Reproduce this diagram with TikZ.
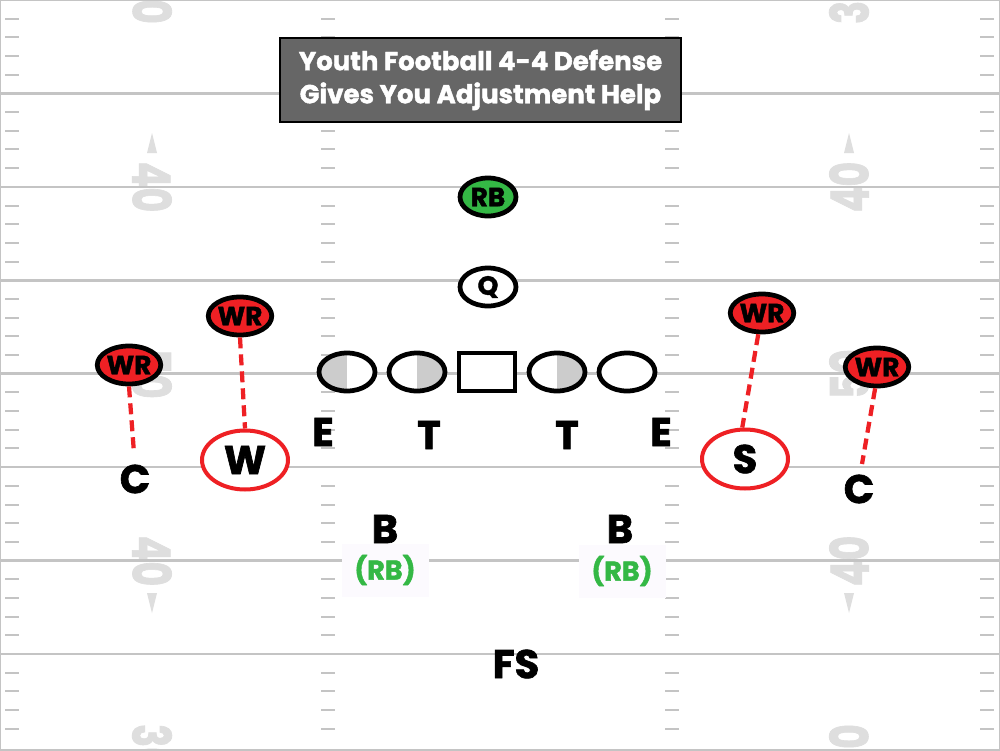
\documentclass[tikz,border=0pt]{standalone}
\usepackage{fontspec}
\setmainfont{Poppins}[BoldFeatures={FakeBold=1.6}]
\usetikzlibrary{shapes.geometric,math}

\definecolor{fieldline}{HTML}{C4C4C4}
\definecolor{numgray}{HTML}{DEDEDE}
\definecolor{wrred}{HTML}{EE2024}
\definecolor{rbgreen}{HTML}{34B845}
\definecolor{halfgray}{HTML}{CCCCCC}
\definecolor{titlegray}{HTML}{666666}
\definecolor{haze}{HTML}{FCFAFE}

\begin{document}
\begin{tikzpicture}[x=0.2mm,y=-0.2mm,
  yardline/.style={fieldline,line width=0.5mm},
  hash/.style={fieldline,line width=0.4mm},
  yardnum/.style={numgray,font=\fontsize{30}{30}\selectfont\bfseries,inner sep=0pt},
  player/.style={ellipse,draw=black,line width=0.95mm,minimum width=11.2mm,minimum height=7.6mm,inner sep=0pt,font=\fontsize{15}{15}\selectfont\bfseries},
  wr/.style={player,fill=wrred},
  lineman/.style={player,fill=white},
  halfleft/.style={path picture={\fill[halfgray] (path picture bounding box.north west) rectangle (path picture bounding box.south);}},
  halfright/.style={path picture={\fill[halfgray] (path picture bounding box.north east) rectangle (path picture bounding box.south);}},
  zone/.style={ellipse,draw=wrred,fill=white,line width=0.8mm,minimum width=17.2mm,minimum height=11.8mm,inner sep=0pt,font=\fontsize{22.8}{22.8}\selectfont\bfseries},
  big/.style={font=\fontsize{22.8}{22.8}\selectfont\bfseries,inner sep=0pt},
  motion/.style={wrred,line width=0.85mm,dash pattern=on 2.2mm off 1.2mm},
  backup/.style={rbgreen,fill=haze,font=\fontsize{15.4}{15.4}\selectfont\bfseries,minimum width=17.4mm,minimum height=10.6mm}
]
  \useasboundingbox (0,0) rectangle (1000,750);
  \clip (0,0) rectangle (1000,750);
  \fill[white] (0,0) rectangle (1000,750);

  % yard numbers
  \foreach \y/\t in {0/30,187/40,374/50,561/40,748/30} {
    \node[yardnum,rotate=-90] (ln\y) at (152,\y) {\scalebox{0.72}[1]{\t}};
    \node[yardnum,rotate=90] (rn\y) at (849,\y) {\scalebox{0.72}[1]{\t}};
  }
  \fill[numgray] (152,133) -- (147,153) -- (157,153) -- cycle;
  \fill[numgray] (152,613) -- (147,593) -- (157,593) -- cycle;
  \fill[numgray] (849,133) -- (844,153) -- (854,153) -- cycle;
  \fill[numgray] (849,613) -- (844,593) -- (854,593) -- cycle;

  \foreach \b in {0,...,7} {
    \foreach \j in {1,...,4} {
      \tikzmath{
        real \hy;
        \hy = (\b * 5 + \j) * 18.685;
      }
      \foreach \hx in {5,321,665,980}
        \draw[hash] (\hx,\hy) -- ++(14,0);
    }
  }
  \foreach \b in {1,...,7}
    \draw[yardline] (0,\b*93.43) -- (1000,\b*93.43);
  \draw[fieldline,line width=0.4mm] (0.5,0.5) rectangle (999.5,749.5);

  \node[fill=titlegray,draw=black,line width=0.4mm,minimum width=80.2mm,minimum height=16.8mm,
    text=white,align=center,font=\fontsize{14.8}{18.8}\selectfont\bfseries] (title) at (480.5,80)
    {Youth Football 4-4 Defense\\Gives You Adjustment Help};

  % offense
  \node[player,fill=rbgreen] (rb) at (488,197) {RB};
  \node[player,fill=white] (qb) at (488,287) {Q};
  \node[lineman,halfleft] (lend) at (347,372) {};
  \node[lineman,halfright] (ltackle) at (417,372) {};
  \node[draw,fill=white,line width=0.95mm,minimum width=11.2mm,minimum height=7.6mm] (center) at (487,372) {};
  \node[lineman,halfright] (rtackle) at (557,372) {};
  \node[lineman] (rend) at (627,372) {};
  \node[wr] (wrlo) at (129,365) {WR};
  \node[wr] (wrli) at (240,316) {WR};
  \node[wr] (wrri) at (762,313) {WR};
  \node[wr] (wrro) at (877,367) {WR};

  % defense
  \node[big] (del) at (323,432) {E};
  \node[big] (dtl) at (429,435) {T};
  \node[big] (dtr) at (567,435) {T};
  \node[big] (der) at (661,432) {E};
  \node[big] (cbl) at (135,479) {C};
  \node[big] (cbr) at (859,489) {C};
  \node[zone] (will) at (245,460) {W};
  \node[zone] (sam) at (745,459) {S};
  \node[big] (lbl) at (385,529) {B};
  \node[big] (lbr) at (620,529) {B};
  \node[backup] (rbl) at (385,570) {(RB)};
  \node[backup] (rbr) at (622,571) {(RB)};
  \node[big] (fs) at (516,664) {FS};

  \coordinate (cbltop) at (134,453);
  \coordinate (cbrtop) at (862,464);
  \draw[motion] (wrlo.south) -- (cbltop);
  \draw[motion] (wrli.south) -- (will.north);
  \draw[motion] (wrri.-100) -- (sam.95);
  \draw[motion] (wrro.-95) -- (cbrtop);
\end{tikzpicture}
\end{document}
